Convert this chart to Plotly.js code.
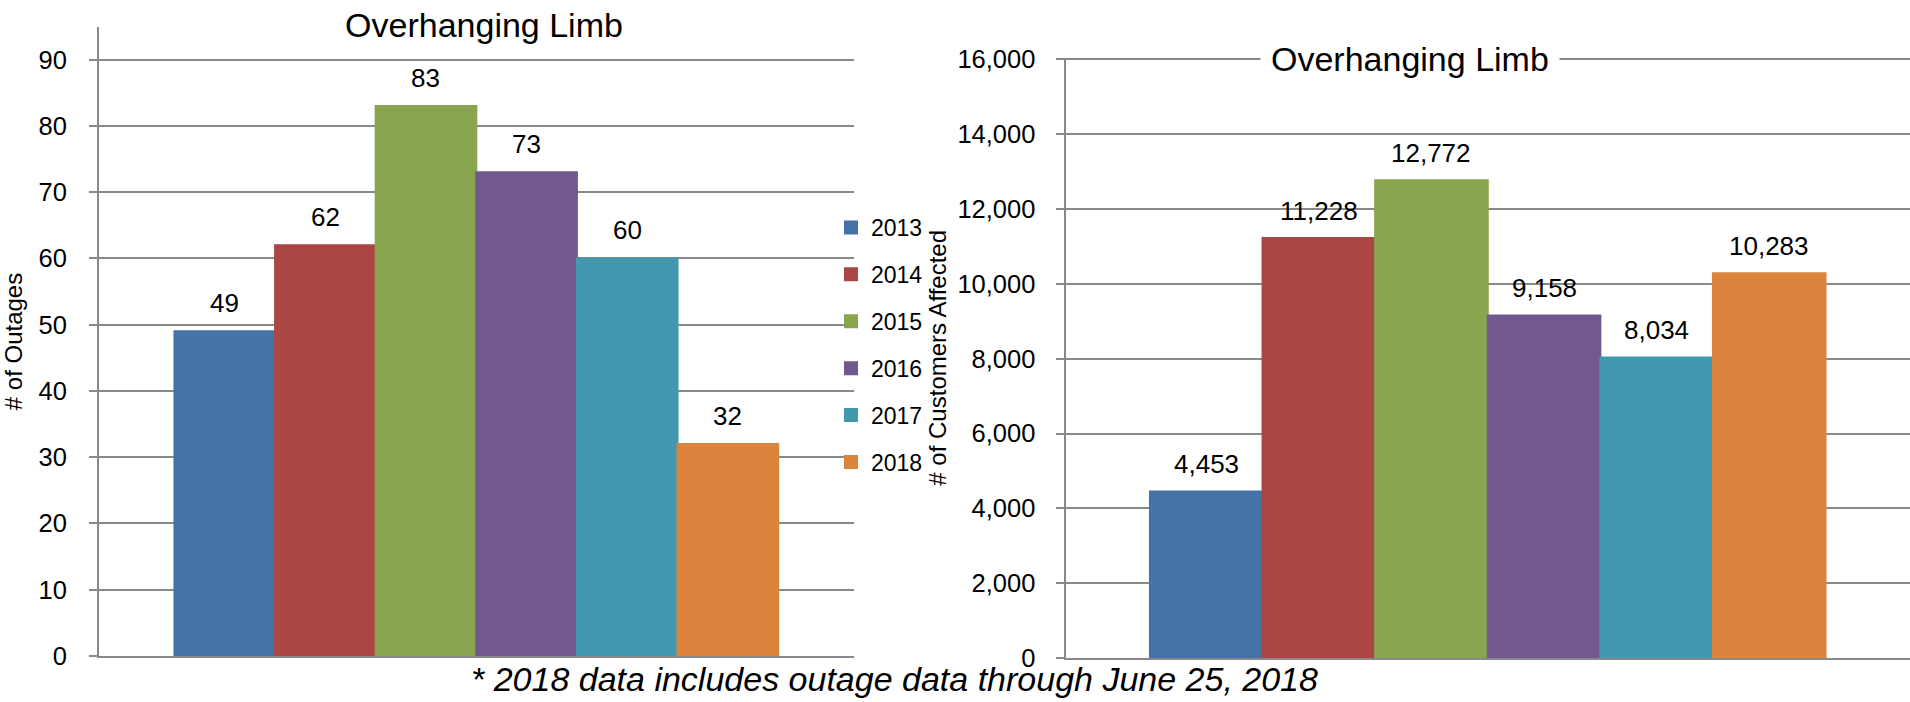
<!DOCTYPE html>
<html>
<head>
<meta charset="utf-8">
<script src="https://cdn.plot.ly/plotly-3.0.1.min.js"></script>
<style>html,body{margin:0;padding:0;background:#fff;}#chart{width:1910px;height:702px;}</style>
</head>
<body>
<div id="chart"></div>
<script>
const years = ['2013', '2014', '2015', '2016', '2017', '2018'];
const outages = [49, 62, 83, 73, 60, 32];
const customers = [4453, 11228, 12772, 9158, 8034, 10283];
const colors = ['#4572A7', '#AA4643', '#89A54E', '#71588F', '#4198AF', '#DB843D'];
const chartTitle = 'Overhanging Limb';
const leftAxisTitle = '# of Outages';
const rightAxisTitle = '# of Customers Affected';
const footnote = '* 2018 data includes outage data through June 25, 2018';

const W = 1910, H = 702;
const NARROW = '"Liberation Sans Narrow", "Arial Narrow", "Liberation Sans", Arial, sans-serif';
const SANS = '"Liberation Sans", Arial, sans-serif';
const GRID = '#898989';

const traces = [];
years.forEach((yr, i) => {
  traces.push({
    type: 'bar', x: [yr], y: [outages[i]], name: yr,
    marker: {color: colors[i], line: {color: colors[i], width: 2}},
    xaxis: 'x', yaxis: 'y', legendgroup: yr, showlegend: true,
    hovertemplate: '%{y}<extra>' + yr + '</extra>'
  });
});
years.forEach((yr, i) => {
  traces.push({
    type: 'bar', x: [yr], y: [customers[i]], name: yr,
    marker: {color: colors[i], line: {color: colors[i], width: 2}},
    xaxis: 'x2', yaxis: 'y2', legendgroup: yr, showlegend: false,
    hovertemplate: '%{y:,}<extra>' + yr + '</extra>'
  });
});

const annotations = [];
years.forEach((yr, i) => {
  annotations.push({
    xref: 'x', yref: 'y', x: i, y: outages[i], text: String(outages[i]),
    showarrow: false, yanchor: 'bottom', xanchor: 'center', yshift: 11,
    font: {family: NARROW, size: 26, color: '#000'}
  });
  annotations.push({
    xref: 'x2', yref: 'y2', x: i, y: customers[i], text: customers[i].toLocaleString('en-US'),
    showarrow: false, yanchor: 'bottom', xanchor: 'center', yshift: 10,
    font: {family: NARROW, size: 26, color: '#000'}
  });
});
annotations.push({
  xref: 'paper', yref: 'paper', x: 1409.5 / W, y: 1 - 59 / H,
  xanchor: 'center', yanchor: 'middle', showarrow: false,
  text: chartTitle, bgcolor: '#ffffff', borderpad: 10,
  font: {family: SANS, size: 34, color: '#000'}
});
annotations.push({
  xref: 'paper', yref: 'paper', x: 894 / W, y: 1 - 679 / H,
  xanchor: 'center', yanchor: 'middle', showarrow: false,
  text: footnote,
  font: {family: SANS, size: 34, color: '#000', style: 'italic'}
});

const yCommon = {
  showline: true, linecolor: GRID, linewidth: 2,
  ticks: 'outside', ticklen: 8, tickwidth: 2, tickcolor: GRID,
  showgrid: true, gridcolor: GRID, gridwidth: 2, zeroline: false,
  tickfont: {family: NARROW, size: 25.5, color: '#000'},
  ticklabelstandoff: 17, fixedrange: true
};
const xCommon = {
  type: 'category', range: [-1.25, 6.25], showline: true, linecolor: GRID, linewidth: 2,
  showticklabels: false, ticks: '', showgrid: false, zeroline: false, fixedrange: true
};

const layout = {
  width: W, height: H,
  margin: {l: 0, r: 0, t: 0, b: 0, pad: 0},
  paper_bgcolor: '#ffffff', plot_bgcolor: '#ffffff',
  barmode: 'overlay', bargap: 0,
  showlegend: true,
  title: {
    text: chartTitle, xref: 'container', yref: 'container',
    x: 484 / W, xanchor: 'center', y: 1 - 25 / H, yanchor: 'middle',
    font: {family: SANS, size: 34, color: '#000'}
  },
  xaxis: Object.assign({}, xCommon, {domain: [99 / W, 853.6 / W], anchor: 'y'}),
  yaxis: Object.assign({}, yCommon, {
    domain: [1 - 656 / H, 1 - 27 / H], anchor: 'x',
    range: [0, 94.93], tick0: 0, dtick: 10,
    title: {text: leftAxisTitle, font: {family: SANS, size: 24, color: '#000'}, standoff: 10}
  }),
  xaxis2: Object.assign({}, xCommon, {domain: [1065.5 / W, 1], anchor: 'y2'}),
  yaxis2: Object.assign({}, yCommon, {
    domain: [1 - 658 / H, 1 - 57.6 / H], anchor: 'x2',
    range: [0, 16050], tick0: 0, dtick: 2000, tickformat: ',',
    ticklabelstandoff: 15,
    title: {text: rightAxisTitle, font: {family: SANS, size: 24, color: '#000'}, standoff: 4}
  }),
  legend: {
    x: 831 / W, xanchor: 'left', y: 1 - 206 / H, yanchor: 'top',
    traceorder: 'grouped', tracegroupgap: 14,
    bgcolor: 'rgba(0,0,0,0)', borderwidth: 0,
    font: {family: SANS, size: 23, color: '#000'},
    itemclick: false, itemdoubleclick: false
  },
  annotations: annotations
};

Plotly.newPlot('chart', traces, layout, {displayModeBar: false, staticPlot: true});
</script>
</body>
</html>
